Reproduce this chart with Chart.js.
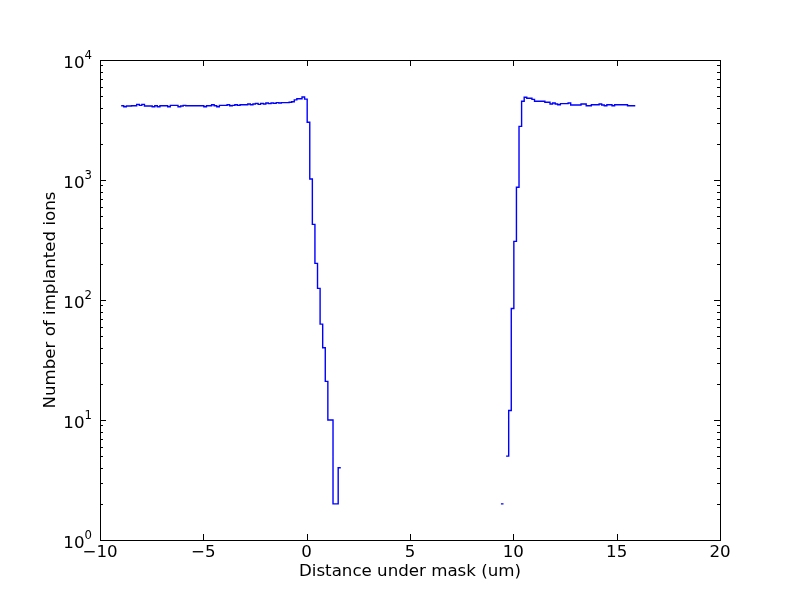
<!DOCTYPE html>
<html>
<head>
<meta charset="utf-8">
<script src="https://cdn.jsdelivr.net/npm/chart.js@4.4.0/dist/chart.umd.min.js"></script>
<style>
  html, body { margin: 0; padding: 0; background: #fff; }
  canvas { display: block; }
</style>
</head>
<body>
<canvas id="myChart" width="800" height="600"></canvas>
<script>
// histogram: bins 0.125 um wide, first bin starts at -8.975 um
const binStart = -8.975;
const binWidth = 0.125;
const counts = [
    4160, 4083, 4140, 4140, 4160, 4160, 4270, 4190, 4270, 4140,
    4140, 4140, 4083, 4160, 4083, 4160, 4160, 4160, 4083, 4190,
    4190, 4190, 4083, 4140, 4190, 4160, 4160, 4160, 4160, 4160,
    4160, 4160, 4083, 4160, 4160, 4240, 4160, 4083, 4190, 4190,
    4190, 4240, 4160, 4190, 4240, 4190, 4240, 4240, 4240, 4300,
    4240, 4300, 4350, 4270, 4350, 4300, 4380, 4330, 4380, 4350,
    4410, 4380, 4410, 4410, 4410, 4440, 4490, 4650, 4750, 4750,
    4920, 4720,
    3030, 1020, 427, 202, 125, 63, 40, 21, 10, 10, 2, 2, 4,
    0, 0, 0, 0, 0, 0, 0, 0, 0, 0, 0, 0, 0, 0, 0, 0, 0, 0, 0, 0,
    0, 0, 0, 0, 0, 0, 0, 0, 0, 0, 0, 0, 0, 0, 0, 0, 0, 0, 0, 0,
    0, 0, 0, 0, 0, 0, 0, 0, 0, 0, 0, 0, 0, 0, 0, 0, 0, 0, 0, 0,
    0, 0,
    2, 0, 5, 12, 85, 308, 870, 2800,
    4530, 4890, 4800, 4800, 4700, 4530, 4530, 4530, 4530, 4440,
    4440, 4300, 4380, 4300, 4240, 4330, 4330, 4330, 4380, 4220,
    4220, 4220, 4220, 4300, 4300, 4160, 4160, 4240, 4240, 4240,
    4300, 4220, 4160, 4240, 4240, 4160, 4240, 4240, 4240, 4240,
    4240, 4160, 4160, 4160
];
const xTicks = [-10, -5, 0, 5, 10, 15, 20];
const yDecades = [1, 10, 100, 1000, 10000];
const xTitle = 'Distance under mask (um)';
const yTitle = 'Number of implanted ions';

// step outline: each non-empty bin gives its left and right corner, empty bins break the line
function buildSteps() {
    const pts = [];
    for (let i = 0; i < counts.length; i++) {
        const left = binStart + i * binWidth;
        if (counts[i] > 0) {
            pts.push({ x: left, y: counts[i] });
            pts.push({ x: left + binWidth, y: counts[i] });
        } else {
            pts.push({ x: left, y: null });
        }
    }
    return pts;
}

const FONT = '"DejaVu Sans", "Liberation Sans", sans-serif';

// matplotlib-like frame, inward ticks and labels
const axesFrame = {
    id: 'axesFrame',
    afterDatasetsDraw(chart) {
        const ctx = chart.ctx;
        const a = chart.chartArea;
        const xs = chart.scales.x;
        const ys = chart.scales.y;
        ctx.save();
        ctx.strokeStyle = '#000';
        ctx.fillStyle = '#000';
        ctx.lineWidth = 1;
        ctx.strokeRect(a.left + 0.5, a.top + 0.5, a.right - a.left, a.bottom - a.top);

        ctx.beginPath();
        xTicks.forEach(v => {
            const px = Math.round(xs.getPixelForValue(v)) + 0.5;
            ctx.moveTo(px, a.bottom); ctx.lineTo(px, a.bottom - 6);
            ctx.moveTo(px, a.top); ctx.lineTo(px, a.top + 6);
        });
        yDecades.forEach((d, k) => {
            const py = Math.round(ys.getPixelForValue(d)) + 0.5;
            ctx.moveTo(a.left, py); ctx.lineTo(a.left + 6, py);
            ctx.moveTo(a.right, py); ctx.lineTo(a.right - 6, py);
            if (k < yDecades.length - 1) {
                for (let m = 2; m <= 9; m++) {
                    const pm = Math.round(ys.getPixelForValue(m * d)) + 0.5;
                    ctx.moveTo(a.left, pm); ctx.lineTo(a.left + 3, pm);
                    ctx.moveTo(a.right, pm); ctx.lineTo(a.right - 3, pm);
                }
            }
        });
        ctx.stroke();

        ctx.font = '16.67px ' + FONT;
        ctx.textAlign = 'center';
        ctx.textBaseline = 'alphabetic';
        xTicks.forEach(v => {
            const px = xs.getPixelForValue(v);
            ctx.fillText(String(v).replace('-', '\u2212'), px, a.bottom + 17);
        });

        yDecades.forEach(d => {
            const py = ys.getPixelForValue(d);
            const ex = String(Math.round(Math.log10(d)));
            ctx.textAlign = 'right';
            ctx.font = '11.7px ' + FONT;
            const ew = ctx.measureText(ex).width;
            ctx.fillText(ex, a.left - 8, py - 1);
            ctx.font = '16.67px ' + FONT;
            ctx.fillText('10', a.left - 8 - ew, py + 8);
        });

        ctx.textAlign = 'center';
        ctx.font = '16.67px ' + FONT;
        ctx.fillText(xTitle, (a.left + a.right) / 2, 576);
        ctx.translate(55, (a.top + a.bottom) / 2);
        ctx.rotate(-Math.PI / 2);
        ctx.fillText(yTitle, 0, 0);
        ctx.restore();
    }
};

const ctx = document.getElementById('myChart').getContext('2d');
const myChart = new Chart(ctx, {
    type: 'line',
    data: {
        datasets: [{
            data: buildSteps(),
            borderColor: '#0000ff',
            borderWidth: 1.4,
            pointRadius: 0,
            fill: false,
            tension: 0,
            spanGaps: false
        }]
    },
    options: {
        responsive: false,
        animation: false,
        devicePixelRatio: 1,
        layout: { padding: { left: 100, right: 80, top: 60, bottom: 60 } },
        plugins: { legend: { display: false }, tooltip: { enabled: false } },
        scales: {
            x: { type: 'linear', min: -10, max: 20, display: false },
            y: { type: 'logarithmic', min: 1, max: 10000, display: false }
        }
    },
    plugins: [axesFrame]
});
</script>
</body>
</html>
